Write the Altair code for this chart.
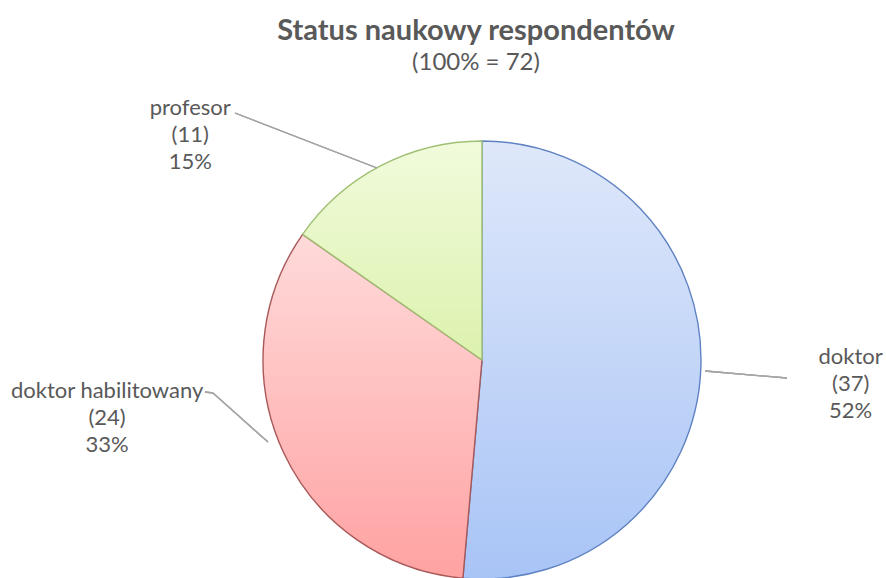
import altair as alt
import pandas as pd

categories = ["doktor", "doktor habilitowany", "profesor"]
counts = [37, 24, 11]
percents = ["52%", "33%", "15%"]
order = [0, 1, 2]

df = pd.DataFrame({"cat": categories, "n": counts, "pct": percents, "ord": order})
total = sum(counts)

FONT = "Lato"
GRAY = "#595959"
R = 219

base = alt.Chart(df).transform_window(
    cum="sum(n)", sort=[alt.SortField("ord")], frame=[None, 0]
).transform_calculate(
    start="datum.cum - datum.n",
    mid="datum.cum - datum.n / 2",
    label="datum.cat + '\\n(' + datum.n + ')\\n' + datum.pct",
)
theta_scale = alt.Scale(domain=[0, total], range=[0, 6.283185307179586])

styles = {
    "doktor": ("#dfe8fa", "#a8c4f6", "#5f82c2"),
    "doktor habilitowany": ("#ffdada", "#ffa2a2", "#a85858"),
    "profesor": ("#f1fbdc", "#dcf2ae", "#9fbf72"),
}


def slice_layer(cat):
    top, bottom, stroke = styles[cat]
    grad = alt.Gradient(
        gradient="linear",
        stops=[alt.GradientStop(color=top, offset=0), alt.GradientStop(color=bottom, offset=1)],
        x1=0, x2=0, y1=0, y2=1,
    )
    return base.transform_filter(alt.datum.cat == cat).mark_arc(
        outerRadius=R, fill=grad, stroke=stroke, strokeWidth=1.4
    ).encode(
        theta=alt.Theta("start:Q", scale=theta_scale),
        theta2="cum:Q",
    )


label_layout = {
    "doktor": dict(radius=347, dx=22, dy=-18),
    "doktor habilitowany": dict(radius=300, dx=-103, dy=-96),
    "profesor": dict(radius=320, dx=-144, dy=32),
}


def label_layer(cat):
    lay = label_layout[cat]
    return base.transform_filter(alt.datum.cat == cat).mark_text(
        radius=lay["radius"], dx=lay["dx"], dy=lay["dy"], font=FONT, fontSize=22,
        color=GRAY, lineBreak="\n", lineHeight=27, align="center", baseline="middle",
    ).encode(
        theta=alt.Theta("mid:Q", scale=theta_scale),
        text="label:N",
    )


def leader(x1, y1, x2, y2):
    return alt.Chart(df).mark_rule(color="#a6a6a6", strokeWidth=1.3).encode(
        x=alt.value(x1), y=alt.value(y1), x2=alt.value(x2), y2=alt.value(y2)
    )


OX, OY = 78, 142
leaders = [
    leader(235 - OX, 113 - OY, 377 - OX, 168 - OY),
    leader(205 - OX, 392 - OY, 213 - OX, 393 - OY),
    leader(213 - OX, 393 - OY, 268 - OX, 442 - OY),
    leader(705 - OX, 371 - OY, 787 - OX, 378 - OY),
]

chart = alt.layer(
    *[slice_layer(c) for c in categories],
    *leaders,
    *[label_layer(c) for c in categories],
).properties(
    width=808,
    height=436,
    autosize="none",
    padding={"left": OX, "top": OY, "right": 0, "bottom": 0},
    title=alt.TitleParams(
        text="Status naukowy respondentów",
        subtitle="(100% = 72)",
        font=FONT, fontSize=29, fontWeight="bold", color=GRAY,
        subtitleFont=FONT, subtitleFontSize=24, subtitleColor=GRAY,
        subtitlePadding=5, anchor="middle", offset=22, dx=-6,
    ),
).configure_view(stroke=None)

chart.save("out.html", embed_options={"renderer": "svg", "actions": False})
